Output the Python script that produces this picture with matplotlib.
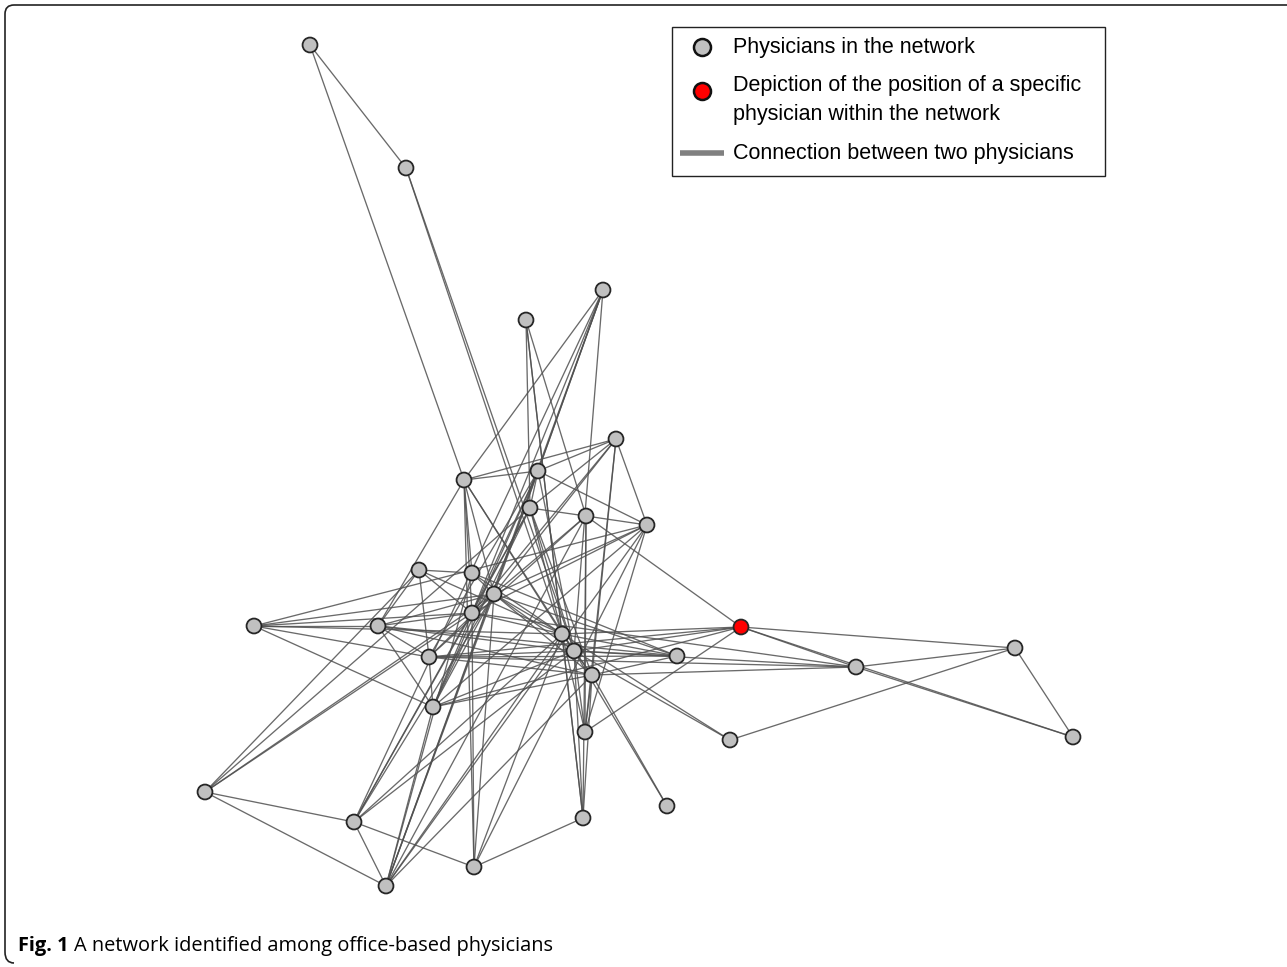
import numpy as np
import matplotlib.pyplot as plt
from matplotlib.collections import LineCollection
from matplotlib.path import Path
from matplotlib.patches import PathPatch, Rectangle

plt.rcParams['font.family'] = ['Liberation Sans', 'DejaVu Sans']

# node layout (pixel space of the original figure, y downward)
node_x = [310, 406, 603, 526, 616, 464, 538, 530, 586, 647,
          419, 472, 494, 472, 254, 378, 562, 741, 574, 429,
          677, 592, 856, 1015, 433, 585, 730, 1073, 205, 667,
          354, 583, 474, 386]
node_y = [45, 168, 290, 320, 439, 480, 471, 508, 516, 525,
          570, 573, 594, 613, 626, 626, 634, 627, 651, 657,
          656, 675, 667, 648, 707, 732, 740, 737, 792, 806,
          822, 818, 867, 886]
focus_node = 17

edges = [
    (0, 1), (0, 5),
    (1, 16), (1, 18),
    (2, 5), (2, 6), (2, 12), (2, 13), (2, 30), (2, 33), (2, 18),
    (3, 7), (3, 16), (3, 8), (3, 31),
    (4, 5), (4, 6), (4, 7), (4, 9), (4, 13), (4, 21), (4, 25), (4, 12),
    (5, 6), (5, 15), (5, 11), (5, 12), (5, 13), (5, 18), (5, 32), (5, 16),
    (6, 9), (6, 7), (6, 19), (6, 24), (6, 33), (6, 13), (6, 18),
    (7, 8), (7, 16), (7, 18), (7, 21), (7, 13), (7, 30), (7, 28), (7, 24),
    (8, 9), (8, 17), (8, 25), (8, 31), (8, 19), (8, 33), (8, 12),
    (9, 12), (9, 14), (9, 25), (9, 13), (9, 32), (9, 33), (9, 24),
    (10, 11), (10, 13), (10, 16), (10, 15), (10, 28), (10, 19),
    (11, 12), (11, 16), (11, 20), (11, 33),
    (12, 13), (12, 14), (12, 15), (12, 16), (12, 18), (12, 21), (12, 19),
    (12, 24), (12, 28), (12, 30), (12, 32), (12, 33), (12, 20),
    (13, 14), (13, 15), (13, 28), (13, 32), (13, 30), (13, 16), (13, 22), (13, 24),
    (14, 15), (14, 16), (14, 19), (14, 24),
    (15, 24), (15, 18), (15, 20), (15, 21), (15, 19),
    (16, 18), (16, 17), (16, 21), (16, 26), (16, 30), (16, 32), (16, 33),
    (16, 20), (16, 25), (16, 31),
    (17, 18), (17, 22), (17, 23), (17, 27), (17, 25), (17, 19), (17, 24),
    (18, 21), (18, 26), (18, 29), (18, 30), (18, 25), (18, 31), (18, 22),
    (18, 20), (18, 19), (18, 24),
    (19, 24), (19, 21), (19, 22), (19, 20),
    (20, 21),
    (21, 29), (21, 25), (21, 31), (21, 24), (21, 33), (21, 22),
    (22, 23), (22, 27),
    (23, 26), (23, 27),
    (24, 33),
    (28, 30), (28, 33),
    (30, 32), (30, 33),
    (31, 32),
]

legend_labels = ['Physicians in the network',
                 'Depiction of the position of a specific\nphysician within the network',
                 'Connection between two physicians']
caption_bold = 'Fig. 1'
caption_text = 'A network identified among office-based physicians'

W, H = 1287, 967
fig = plt.figure(figsize=(W / 100, H / 100), dpi=100)
ax = fig.add_axes([0, 0, 1, 1])
ax.set_xlim(0, W)
ax.set_ylim(H, 0)
ax.axis('off')

# edges
segs = [[(node_x[a], node_y[a]), (node_x[b], node_y[b])] for a, b in edges]
lc = LineCollection(segs, colors='#505050', linewidths=0.95, alpha=0.85, zorder=1)
ax.add_collection(lc)

# nodes
colors = ['#ff0000' if i == focus_node else '#c0c0c0' for i in range(len(node_x))]
ax.scatter(node_x, node_y, s=115, c=colors, edgecolors='#262626',
           linewidths=1.3, zorder=3)

# legend, drawn by hand so the layout matches the original box
ax.add_patch(Rectangle((672, 27), 433, 149, fill=False, ec='#222222', lw=1.0, zorder=4))
ax.scatter([702], [47], s=150, c='#c0c0c0', edgecolors='#111111', linewidths=1.8, zorder=5)
ax.scatter([702], [91], s=150, c='#ff0000', edgecolors='#111111', linewidths=1.8, zorder=5)
ax.plot([680, 724], [153, 153], color='#808080', lw=4, solid_capstyle='butt', zorder=5)
ax.text(733, 47, legend_labels[0], fontsize=15.5, va='center', ha='left', zorder=5)
ax.text(733, 75, legend_labels[1], fontsize=15.5, va='top', ha='left',
        linespacing=1.5, zorder=5)
ax.text(733, 153, legend_labels[2], fontsize=15.5, va='center', ha='left', zorder=5)

# bracket-style border along the left and top
verts = [(14, 963), (5, 963), (5, 952), (5, 14), (5, 5), (14, 5), (W, 5)]
codes = [Path.MOVETO, Path.CURVE3, Path.CURVE3, Path.LINETO,
         Path.CURVE3, Path.CURVE3, Path.LINETO]
ax.add_patch(PathPatch(Path(verts, codes), fill=False, lw=1.2, ec='#222222'))

# caption
t1 = ax.text(18, 946, caption_bold, fontsize=14.4, fontweight='bold',
             family=['Open Sans', 'DejaVu Sans'], va='center', ha='left')
ax.annotate(caption_text, xy=(1, 0.5), xycoords=t1, xytext=(4, 0),
            textcoords='offset points', fontsize=14.4,
            family=['Open Sans', 'DejaVu Sans'], va='center', ha='left')

fig.savefig('out.png', dpi=100)
